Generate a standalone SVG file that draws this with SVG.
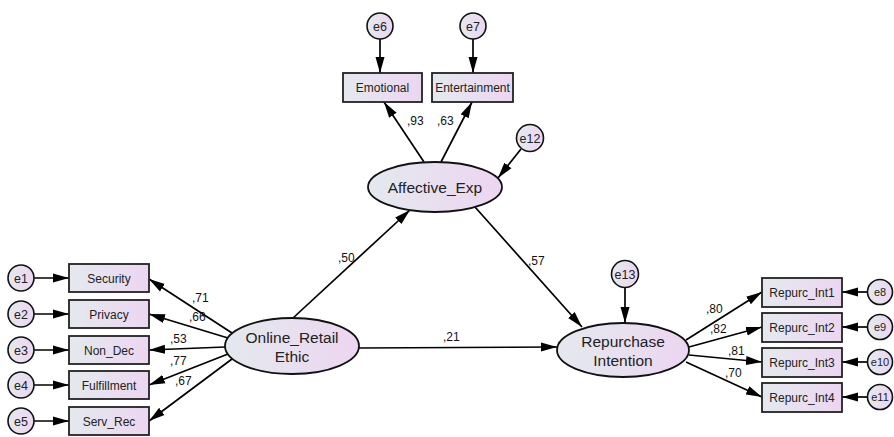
<svg xmlns="http://www.w3.org/2000/svg" width="894" height="437" viewBox="0 0 894 437">
<defs>
<linearGradient id="g" x1="0" y1="0" x2="1" y2="0">
<stop offset="0" stop-color="#e4e9ee"/>
<stop offset="1" stop-color="#ecd6f1"/>
</linearGradient>
<marker id="ah" markerUnits="userSpaceOnUse" markerWidth="16" markerHeight="10" refX="16" refY="5" orient="auto">
<path d="M0,0.5 L16,5 L0,9.5 z" fill="#000"/>
</marker>
<style>
.box{fill:url(#g);stroke:#222;stroke-width:1.8}
.lat{fill:url(#g);stroke:#111;stroke-width:1.8}
.err{fill:url(#g);stroke:#111;stroke-width:1.6}
.t{font-family:"Liberation Sans",Arial,sans-serif;fill:#222;text-anchor:middle}
.bt{font-size:12px}
.lt{font-size:15.5px}
.et{font-size:12.5px}
.es{font-size:11px}
.w{font-family:"Liberation Sans",Arial,sans-serif;font-size:12px;fill:#111}
.c line{stroke:#000;stroke-width:1.7;marker-end:url(#ah)}
</style>
</defs>
<rect width="894" height="437" fill="#fff"/>

<g id="connectors" class="c">
<line x1="380" y1="39" x2="380" y2="73"/>
<line x1="473" y1="39" x2="473" y2="73"/>
<line x1="424" y1="162" x2="384" y2="102"/>
<line x1="441" y1="162" x2="472" y2="102"/>
<line x1="521" y1="149" x2="498" y2="178"/>
<line x1="293" y1="318" x2="410" y2="210"/>
<line x1="475" y1="207" x2="582" y2="327"/>
<line x1="359" y1="348" x2="557" y2="347"/>
<line x1="625" y1="287" x2="625" y2="323"/>
<line x1="34" y1="278" x2="69" y2="278"/>
<line x1="34" y1="314" x2="69" y2="314"/>
<line x1="34" y1="350" x2="69" y2="350"/>
<line x1="34" y1="385" x2="69" y2="385"/>
<line x1="34" y1="421" x2="69" y2="421"/>
<line x1="232" y1="333" x2="149" y2="279"/>
<line x1="228" y1="338" x2="149" y2="314"/>
<line x1="225" y1="347" x2="149" y2="350"/>
<line x1="228" y1="354" x2="149" y2="385"/>
<line x1="232" y1="359" x2="149" y2="421"/>
<line x1="686" y1="340" x2="762" y2="292"/>
<line x1="689" y1="347" x2="762" y2="327"/>
<line x1="689" y1="355" x2="762" y2="362"/>
<line x1="686" y1="362" x2="762" y2="397"/>
<line x1="868" y1="292" x2="842" y2="292"/>
<line x1="868" y1="327" x2="842" y2="327"/>
<line x1="868" y1="362" x2="842" y2="362"/>
<line x1="868" y1="397" x2="842" y2="397"/>
</g>

<g id="weights">
<text class="w" x="407" y="125">,93</text>
<text class="w" x="437" y="125">,63</text>
<text class="w" x="338" y="262">,50</text>
<text class="w" x="528" y="265">,57</text>
<text class="w" x="443" y="341">,21</text>
<text class="w" x="192" y="302">,71</text>
<text class="w" x="189" y="321">,66</text>
<text class="w" x="170" y="343">,53</text>
<text class="w" x="170" y="365">,77</text>
<text class="w" x="175" y="385">,67</text>
<text class="w" x="706" y="313">,80</text>
<text class="w" x="710" y="333">,82</text>
<text class="w" x="728" y="355">,81</text>
<text class="w" x="725" y="377">,70</text>
</g>

<g id="e6"><circle class="err" cx="380" cy="26" r="13"/><text class="t et" x="380" y="30.5">e6</text></g>
<g id="e7"><circle class="err" cx="473" cy="26" r="13"/><text class="t et" x="473" y="30.5">e7</text></g>
<g id="Emotional"><rect class="box" x="343" y="73" width="79" height="29"/><text class="t bt" x="382.5" y="92">Emotional</text></g>
<g id="Entertainment"><rect class="box" x="432" y="73" width="81" height="29"/><text class="t bt" x="472.5" y="92">Entertainment</text></g>
<g id="e12"><circle class="err" cx="530" cy="138" r="13.5"/><text class="t et" x="530" y="142.5">e12</text></g>
<g id="Affective_Exp"><ellipse class="lat" cx="435" cy="187" rx="67" ry="25"/><text class="t lt" x="435" y="193">Affective_Exp</text></g>

<g id="Online_Retail_Ethic"><ellipse class="lat" cx="292" cy="346" rx="67" ry="28"/><text class="t lt" x="292" y="343">Online_Retail</text><text class="t lt" x="292" y="362">Ethic</text></g>
<g id="e13"><circle class="err" cx="625" cy="274" r="13.5"/><text class="t et" x="625" y="278.5">e13</text></g>
<g id="Repurchase_Intention"><ellipse class="lat" cx="623" cy="350" rx="66" ry="27"/><text class="t lt" x="623" y="347">Repurchase</text><text class="t lt" x="623" y="366">Intention</text></g>

<g id="e1"><circle class="err" cx="21" cy="278" r="13"/><text class="t et" x="21" y="282.5">e1</text></g>
<g id="e2"><circle class="err" cx="21" cy="314" r="13"/><text class="t et" x="21" y="318.5">e2</text></g>
<g id="e3"><circle class="err" cx="21" cy="350" r="13"/><text class="t et" x="21" y="354.5">e3</text></g>
<g id="e4"><circle class="err" cx="21" cy="385" r="13"/><text class="t et" x="21" y="389.5">e4</text></g>
<g id="e5"><circle class="err" cx="21" cy="421" r="13"/><text class="t et" x="21" y="425.5">e5</text></g>
<g id="Security"><rect class="box" x="69" y="264" width="80" height="28"/><text class="t bt" x="109" y="282.5">Security</text></g>
<g id="Privacy"><rect class="box" x="69" y="300" width="80" height="28"/><text class="t bt" x="109" y="318.5">Privacy</text></g>
<g id="Non_Dec"><rect class="box" x="69" y="336" width="80" height="28"/><text class="t bt" x="109" y="354.5">Non_Dec</text></g>
<g id="Fulfillment"><rect class="box" x="69" y="371" width="80" height="28"/><text class="t bt" x="109" y="389.5">Fulfillment</text></g>
<g id="Serv_Rec"><rect class="box" x="69" y="407" width="80" height="28"/><text class="t bt" x="109" y="425.5">Serv_Rec</text></g>

<g id="Repurc_Int1"><rect class="box" x="762" y="278" width="80" height="29"/><text class="t bt" x="802" y="296.5">Repurc_Int1</text></g>
<g id="Repurc_Int2"><rect class="box" x="762" y="313" width="80" height="29"/><text class="t bt" x="802" y="331.5">Repurc_Int2</text></g>
<g id="Repurc_Int3"><rect class="box" x="762" y="348" width="80" height="29"/><text class="t bt" x="802" y="366.5">Repurc_Int3</text></g>
<g id="Repurc_Int4"><rect class="box" x="762" y="383" width="80" height="29"/><text class="t bt" x="802" y="401.5">Repurc_Int4</text></g>
<g id="e8"><circle class="err" cx="880" cy="292" r="12.5"/><text class="t es" x="880" y="296">e8</text></g>
<g id="e9"><circle class="err" cx="880" cy="327" r="12.5"/><text class="t es" x="880" y="331">e9</text></g>
<g id="e10"><circle class="err" cx="880" cy="362" r="12.5"/><text class="t es" x="880" y="366">e10</text></g>
<g id="e11"><circle class="err" cx="880" cy="397" r="12.5"/><text class="t es" x="880" y="401">e11</text></g>
</svg>
